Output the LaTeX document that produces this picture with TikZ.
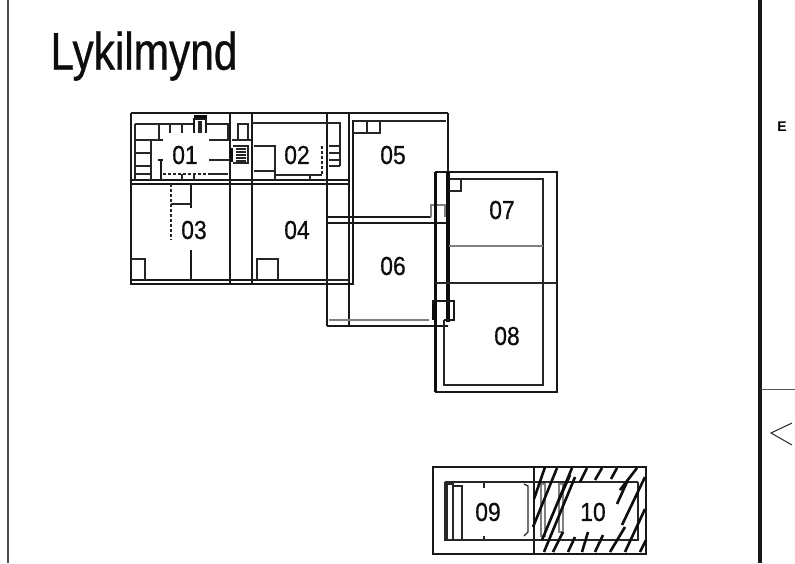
\documentclass[tikz,border=0pt]{standalone}
\usepackage{fontspec}
\setmainfont{Liberation Sans}
\newfontfamily\planfont[FakeBold=0.7]{Liberation Sans}
\tikzstyle{plan}=[
  x=1pt,y=-1pt,line cap=butt
]
\tikzstyle{wall}=[
  line width=1.9pt,black!90
]
\tikzstyle{heavywall}=[
  line width=3pt,black!95
]
\tikzstyle{fitting}=[
  line width=1.2pt,black!85
]
\tikzstyle{faint}=[
  line width=1.1pt,black!50
]
\tikzstyle{hatch}=[
  line width=2.6pt,black!95
]
\tikzstyle{roomlabel}=[
  inner sep=0pt,xscale=0.88,font=\planfont\fontsize{26}{26}\selectfont,text=black!95
]
\begin{document}
\begin{tikzpicture}[plan]
        \useasboundingbox (0,0) rectangle (795,563);
        % sheet frame
        \draw [line width=1.2pt,black!70] (8,0) -- (8,563);
        \draw [line width=4pt,black!90] (760,0) -- (760,563);
        \draw [line width=1pt,black!65] (761,389) -- (795,389);
        \draw [line width=1pt,black!85] (792,423) -- (771,433) -- (792,445);
        \node (sheetmark) at (782,127) [inner sep=0pt,font=\fontsize{14}{14}\bfseries\selectfont] {E};
        \node (title) at (144,56) [inner sep=0pt,xscale=0.8,font=\planfont\fontsize{53}{53}\selectfont,text=black!95] {Lykilmynd};

        % 01 to 04
        \draw [wall] (131,113) -- (349,113);
        \draw [wall] (131,113) -- (131,284) -- (349,284);
        \draw [wall] (131,280) -- (349,280);
        \draw [wall] (131,180) -- (349,180);
        \draw [wall] (131,184) -- (349,184);
        \draw [wall,line width=2.4pt] (230,113) -- (230,284);
        \draw [wall,line width=2.4pt] (252,113) -- (252,284);
        \draw [wall,line width=2.4pt] (327,113) -- (327,326);
        \draw [wall] (349,113) -- (349,326);

        % 01
        \draw [fitting] (135,124) -- (135,180);
        \draw [fitting] (135,124) -- (159,124) -- (159,140) (135,140) -- (163,140);
        \draw [fitting] (151,140) -- (151,180) (135,153) -- (151,153) (135,166) -- (151,166);
        \draw [fitting] (159,124) -- (194,124);
        \draw [fitting] (170,124) -- (170,133) (182,124) -- (182,133);
        \draw [wall] (194,133) -- (194,119) -- (206,119) -- (206,133);
        \draw [fitting] (199,133) -- (199,122) -- (201,122) -- (201,133);
        \draw [heavywall] (194,116) -- (207,116);
        \draw [fitting] (206,124) -- (228,124) -- (228,140) -- (209,140);
        \draw [fitting] (209,160) -- (230,160);
        \draw [wall] (158,160) -- (163,160) (161,160) -- (161,180);
        \draw [fitting,densely dashed] (163,174) -- (208,174);
        \draw [fitting] (135,174) -- (151,174) (182,174) -- (182,180) (194,174) -- (194,180) (208,174) -- (228,174);

        % stairs beside 01 and 02
        \draw [fitting] (238,124) rectangle (248,140);
        \draw [fitting] (232,140) -- (251,140);
        \draw [fitting] (233,146) -- (248,146) -- (248,163) -- (233,163);
        \foreach \rung in {149,152,155,158,161} {
          \draw [fitting] (236,\rung) -- (246,\rung);
        }
        \draw [heavywall] (231,148) -- (231,162);
        \draw [fitting] (252,123) -- (340,123) -- (340,166);
        \draw [fitting] (254,146) -- (275,146) -- (275,180) (254,171) -- (275,171);
        \draw [fitting] (275,175) -- (322,175) (310,175) -- (310,180);
        \draw [fitting,densely dashed] (322,146) -- (322,175);
        \draw [fitting] (329,146) -- (340,146) (329,153) -- (340,153) (329,160) -- (340,160) (329,166) -- (340,166);

        % 03 and 04
        \draw [fitting,densely dashed] (171,184) -- (171,240);
        \draw [wall] (191,184) -- (191,208);
        \draw [fitting] (171,204) -- (191,204);
        \draw [wall] (191,250) -- (191,280);
        \draw [fitting] (131,259) -- (145,259) -- (145,280);
        \draw [fitting,line width=1.6pt] (257,280) -- (257,259) -- (278,259) -- (278,280);

        % 05 and 06
        \draw [wall] (327,113) -- (448,113);
        \draw [wall] (353,120) -- (353,284) -- (327,284);
        \draw [wall] (327,326) -- (448,326);
        \draw [faint,line width=1.8pt] (329,320) -- (429,320);
        \draw [fitting] (353,121) -- (446,121);
        \draw [fitting] (353,133) -- (380,133) -- (380,121) (367,121) -- (367,133);
        \draw [wall] (327,217) -- (431,217) (327,223) -- (446,223);
        \draw [faint] (431,217) -- (431,205) -- (445,205) -- (445,217);
        \draw [fitting] (327,280) -- (349,280);

        % 07 and 08
        \draw [wall] (435,172) -- (557,172) -- (557,392) -- (435,392);
        \draw [heavywall] (435,172) -- (435,392);
        \draw [wall] (448,113) -- (448,172);
        \draw [heavywall,line width=4pt] (448,172) -- (448,322);
        \draw [fitting,line width=1.6pt] (449,179) -- (543,179) -- (543,385) -- (444,385) -- (444,320);
        \draw [fitting] (449,191) -- (461,191) -- (461,179);
        \draw [faint,line width=1.6pt] (449,246) -- (543,246);
        \draw [fitting,line width=1.6pt] (435,283) -- (557,283);
        \draw [wall] (433,320) -- (433,301) -- (454,301) -- (454,320) -- (444,320);
        \draw [heavywall] (433,304) -- (433,320);

        % 09 and 10
        \draw [wall] (433,467) rectangle (646,554);
        \draw [wall] (534,467) -- (534,554);
        \draw [fitting] (445,482) -- (638,482) (445,482) -- (445,540) -- (638,540) -- (638,482);
        \draw [fitting] (447,484) rectangle (453,540);
        \draw [fitting] (453,486) rectangle (462,540);
        \draw [fitting] (524,484) -- (528,486) -- (528,532) -- (524,536);
        \draw [fitting] (484,482) -- (484,488) (484,536) -- (484,540);
        \draw [faint] (541,484) rectangle (545,536);
        \draw [faint] (559,484) rectangle (563,532);
        \foreach \xa/\ya/\xb/\yb in {
            534/499/545/467, 533/527/557/468, 542/540/572/468, 544/552/575/477,
            558/502/570/475, 580/482/587/468, 595/480/602/468, 611/479/617/468,
            620/490/637/468, 617/504/627/482, 622/525/645/477, 553/552/563/532,
            568/552/575/537, 582/552/588/532, 595/552/603/535, 610/552/625/527,
            625/552/645/509, 640/552/646/540} {
          \draw [hatch] (\xa,\ya) -- (\xb,\yb);
        }

        % labels
        \node (lab01) at (185,155) [roomlabel] {01};
        \node (lab02) at (297,155) [roomlabel] {02};
        \node (lab03) at (194,230) [roomlabel] {03};
        \node (lab04) at (297,230) [roomlabel] {04};
        \node (lab05) at (393,155) [roomlabel] {05};
        \node (lab06) at (393,266) [roomlabel] {06};
        \node (lab07) at (502,210) [roomlabel] {07};
        \node (lab08) at (507,336) [roomlabel] {08};
        \node (lab09) at (488,512) [roomlabel] {09};
        \node (lab10) at (593,512) [roomlabel] {10};
\end{tikzpicture}
\end{document}
